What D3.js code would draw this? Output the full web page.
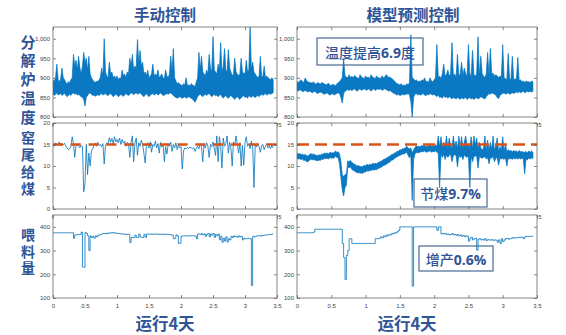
<!DOCTYPE html>
<html>
<head>
<meta charset="utf-8">
<script src="https://cdn.jsdelivr.net/npm/d3@7/dist/d3.min.js"></script>
<style>
  body { margin: 0; background: #fff; }
  .cjk { font-family: "Noto Sans CJK SC", sans-serif; fill: #2f5597; }
  .tick text { font-family: "Liberation Sans", Arial, sans-serif; font-size: 6px; fill: #444; }
  .tick line { stroke: #555; stroke-width: 0.7; }
</style>
</head>
<body>
<svg id="chart" width="566" height="335"></svg>
<script>
// sampling step of the logged data, in days
const dt = 0.02;

const xTicks = [0, 0.5, 1, 1.5, 2, 2.5, 3, 3.5];
const tempTicks = [800, 850, 900, 950, 1000];
const coalTicks = [0, 5, 10, 15, 20];
const feedTicks = [100, 200, 300, 400];
const coalTarget = 15;

const columnTitles = ["手动控制", "模型预测控制"];
const rowLabels = ["分解炉温度", "窑尾给煤", "喂料量"];
const xLabel = "运行4天";
const notes = [
  [["温度提高", false], ["6.9", true], ["度", false]],
  [["节煤", false], ["9.7%", true]],
  [["增产", false], ["0.6%", true]]
];

// 分解炉温度, manual: upper / lower edge of the noisy band
const manualTempHigh = [
  895, 890, 900, 935, 895, 890, 898, 925, 900, 895,
  888, 885, 890, 888, 895, 900, 960, 930, 945, 920,
  955, 925, 910, 930, 965, 940, 950, 920, 955, 910,
  900, 895, 890, 888, 892, 890, 895, 900, 925, 905,
  1000, 915, 905, 900, 940, 910, 915, 900, 905, 898,
  905, 895, 900, 898, 920, 905, 910, 900, 915, 910,
  950, 930, 960, 920, 930, 925, 998, 935, 970, 930,
  940, 910, 915, 905, 920, 900, 905, 910, 935, 905,
  910, 905, 920, 900, 905, 910, 900, 898, 920, 905,
  900, 910, 955, 915, 975, 900, 892, 885, 888, 884,
  882, 880, 885, 882, 900, 880, 882, 880, 885, 882,
  880, 878, 890, 900, 965, 920, 955, 915, 910, 905,
  920, 910, 960, 925, 915, 1005, 920, 915, 910, 935,
  920, 990, 915, 930, 975, 920, 915, 972, 925, 915,
  905, 910, 950, 915, 910, 905, 910, 950, 915, 912,
  910, 945, 915, 920, 1030, 920, 940, 915, 910, 905,
  900, 905, 955, 900, 905, 930, 900, 905, 900, 898,
  895, 900, 895
];
const manualTempLow = [
  860, 855, 858, 862, 856, 858, 860, 855, 858, 860,
  856, 852, 855, 858, 855, 860, 862, 858, 860, 856,
  858, 855, 852, 850, 845, 828, 850, 855, 860, 862,
  858, 855, 856, 853, 855, 857, 855, 858, 860, 856,
  858, 860, 856, 855, 858, 860, 856, 852, 855, 858,
  856, 852, 854, 858, 855, 853, 856, 860, 857, 855,
  858, 862, 860, 857, 860, 862, 858, 860, 862, 858,
  855, 852, 856, 860, 855, 852, 856, 858, 860, 856,
  858, 860, 856, 858, 862, 858, 855, 856, 858, 860,
  858, 860, 862, 858, 855, 852, 850, 848, 850, 852,
  850, 848, 850, 852, 848, 850, 852, 850, 848, 846,
  842, 838, 845, 852, 856, 858, 855, 852, 856, 858,
  855, 858, 860, 856, 852, 855, 858, 854, 856, 852,
  855, 858, 852, 848, 852, 855, 850, 848, 852, 855,
  852, 848, 845, 850, 852, 848, 845, 850, 852, 855,
  850, 852, 848, 855, 852, 850, 855, 852, 850, 853,
  855, 852, 856, 858, 855, 858, 860, 856, 858, 860,
  858, 860, 862
];

// 分解炉温度, model predictive control
const mpcTempHigh = [
  890, 888, 892, 895, 890, 888, 900, 892, 890, 888,
  888, 886, 890, 885, 884, 888, 886, 884, 888, 886,
  885, 882, 884, 886, 882, 880, 884, 882, 880, 884,
  888, 890, 895, 900, 948, 905, 902, 900, 908, 900,
  904, 900, 906, 902, 900, 898, 908, 902, 900, 898,
  905, 900, 902, 898, 908, 902, 900, 898, 905, 900,
  900, 898, 905, 900, 902, 908, 905, 900, 902, 898,
  896, 892, 888, 885, 884, 882, 885, 880, 882, 880,
  885, 882, 888, 1010, 900, 898, 892, 895, 890, 892,
  890, 895, 892, 900, 890, 892, 888, 900, 892, 890,
  895, 900, 985, 900, 905, 898, 910, 935, 905, 908,
  920, 905, 910, 990, 905, 910, 900, 960, 905, 910,
  940, 905, 925, 910, 905, 985, 910, 905, 970, 908,
  905, 910, 1005, 905, 955, 910, 905, 900, 910, 965,
  905, 975, 910, 912, 905, 908, 905, 900, 905, 900,
  985, 900, 898, 895, 962, 898, 895, 955, 895, 898,
  895, 952, 892, 895, 890, 892, 888, 892, 890, 890,
  888, 892, 890
];
const mpcTempLow = [
  868, 866, 870, 868, 865, 866, 868, 866, 864, 866,
  865, 862, 864, 866, 862, 860, 862, 864, 862, 860,
  858, 860, 862, 858, 856, 858, 860, 856, 858, 860,
  862, 860, 850, 836, 860, 866, 868, 870, 868, 870,
  868, 870, 872, 868, 866, 870, 872, 868, 870, 872,
  870, 868, 872, 870, 866, 870, 872, 868, 870, 872,
  870, 872, 868, 870, 872, 870, 868, 866, 868, 864,
  862, 860, 858, 856, 858, 855, 856, 858, 856, 858,
  858, 860, 856, 840, 800, 850, 858, 860, 856, 858,
  856, 858, 860, 856, 854, 858, 856, 860, 858, 856,
  858, 855, 852, 856, 850, 852, 848, 855, 850, 852,
  848, 852, 850, 846, 850, 848, 846, 850, 848, 845,
  850, 846, 848, 850, 845, 848, 850, 846, 848, 845,
  848, 850, 846, 848, 852, 850, 848, 846, 852, 856,
  860, 858, 862, 860, 858, 856, 850, 847, 855, 858,
  860, 862, 858, 860, 862, 858, 860, 862, 860, 862,
  864, 862, 865, 862, 864, 866, 862, 864, 866, 864,
  866, 864, 866
];

// 窑尾给煤, manual
const manualCoal = [
  15.2, 14.6, 15.4, 14.8, 15.0, 15.6, 14.7, 15.2, 14.9, 15.3,
  14.6, 14.2, 13.8, 14.0, 14.6, 16.8, 15.2, 12.0, 14.8, 15.0,
  14.6, 14.2, 14.8, 14.5, 4.0, 6.0, 15.0, 8.0, 13.0, 10.0,
  13.5, 14.0, 14.8, 15.3, 14.6, 15.5, 14.8, 15.0, 14.5, 15.2,
  10.5, 14.8, 15.4, 15.0, 16.6, 15.5, 16.4, 15.2, 16.8, 15.6,
  16.2, 15.4, 16.5, 15.0, 16.2, 15.3, 15.8, 14.6, 15.5, 15.2,
  12.0, 15.5, 17.0, 11.0, 15.2, 16.5, 12.5, 15.4, 14.6, 16.0,
  15.0, 13.0, 10.7, 14.8, 15.4, 14.2, 15.6, 13.2, 15.0, 14.6,
  15.8, 14.2, 15.2, 13.0, 15.5, 14.4, 15.0, 11.0, 14.5, 12.8,
  15.2, 14.6, 15.5, 13.4, 15.0, 14.2, 15.4, 13.8, 14.8, 14.2,
  14.5, 9.3, 13.5, 14.2, 14.0, 14.3, 14.1, 14.4, 14.2, 14.0,
  14.3, 13.4, 14.2, 14.6, 14.0, 15.2, 14.4, 11.0, 15.0, 14.2,
  15.4, 14.6, 12.0, 15.0, 14.5, 15.6, 14.0, 12.5, 17.0, 11.0,
  16.8, 14.5, 9.5, 16.5, 14.6, 15.2, 17.0, 13.0, 15.5, 14.2,
  10.0, 15.6, 14.8, 17.0, 15.0, 13.0, 15.4, 10.0, 14.8, 10.2,
  15.5, 16.8, 14.6, 15.2, 14.0, 15.8, 14.4, 5.0, 15.0, 14.4,
  15.2, 14.5, 13.2, 14.8, 15.0, 13.8, 14.6, 15.2, 14.2, 14.6,
  14.0, 14.8, 14.2
];

// 窑尾给煤, model predictive control: upper / lower edge of the band
const mpcCoalHigh = [
  13.0, 12.8, 12.9, 12.6, 12.8, 12.5, 12.7, 12.4, 12.3, 12.6,
  12.9, 12.7, 12.8, 12.6, 12.5, 12.4, 12.6, 12.5, 12.8, 12.7,
  13.0, 12.9, 13.0, 12.8, 13.2, 13.0, 13.1, 13.0, 13.5, 13.2,
  13.3, 12.8, 11.0, 8.0, 7.5, 8.0, 8.0, 11.2, 11.0, 11.3,
  10.8, 10.6, 10.4, 10.2, 10.0, 10.1, 9.8, 9.9, 9.8, 10.2,
  10.0, 10.4, 10.2, 10.4, 10.3, 10.6, 10.5, 10.6, 10.5, 10.8,
  10.9, 11.1, 11.2, 11.5, 11.6, 11.8, 12.0, 12.2, 12.3, 12.7,
  12.7, 13.0, 13.1, 13.4, 13.5, 13.7, 13.8, 14.0, 14.0, 14.2,
  14.6, 14.2, 14.0, 14.2, 13.0, 13.8, 14.3, 14.7, 14.5, 14.6,
  14.5, 14.8, 14.6, 14.9, 14.5, 14.6, 14.6, 15.0, 14.6, 14.7,
  14.6, 14.9, 14.6, 17.0, 14.5, 16.8, 14.2, 15.5, 14.5, 17.0,
  14.0, 16.5, 14.8, 14.2, 17.0, 14.5, 15.8, 14.0, 17.0, 14.5,
  16.8, 14.2, 15.5, 17.0, 14.6, 15.0, 14.2, 16.8, 14.0, 17.0,
  14.8, 16.5, 14.0, 15.5, 14.2, 13.8, 14.0, 17.0, 13.5, 16.0,
  13.6, 15.5, 13.8, 17.0, 13.5, 14.8, 16.5, 13.4, 14.5, 13.6,
  16.8, 13.4, 15.0, 13.3, 13.8, 13.5, 13.6, 13.3, 13.6, 13.4,
  13.5, 13.2, 13.6, 13.3, 13.4, 13.2, 13.2, 13.4, 13.0, 13.5,
  13.2, 13.5, 13.2
];
const mpcCoalLow = [
  11.8, 11.6, 11.7, 11.5, 11.6, 11.3, 11.4, 11.0, 11.0, 11.3,
  11.6, 11.4, 11.5, 11.4, 11.3, 11.2, 11.4, 11.3, 11.6, 11.5,
  11.8, 11.7, 11.8, 11.6, 12.0, 11.8, 11.9, 11.8, 12.3, 12.0,
  12.0, 10.5, 7.5, 4.5, 3.0, 5.0, 5.5, 9.8, 9.6, 9.8,
  9.2, 9.0, 8.8, 8.6, 8.4, 8.5, 8.3, 8.4, 8.3, 8.6,
  8.6, 8.9, 8.8, 9.0, 8.9, 9.2, 9.0, 9.2, 9.1, 9.4,
  9.5, 9.7, 9.8, 10.1, 10.2, 10.4, 10.6, 10.8, 11.0, 11.4,
  11.4, 11.8, 11.9, 12.2, 12.3, 12.5, 12.6, 12.8, 12.8, 13.0,
  13.2, 12.5, 11.9, 12.6, 2.0, 11.5, 12.8, 13.2, 13.0, 13.2,
  13.2, 13.4, 13.3, 13.5, 13.2, 13.3, 13.3, 13.6, 13.2, 13.4,
  13.3, 13.5, 13.2, 13.0, 5.0, 12.8, 12.0, 12.8, 11.5, 12.6,
  12.0, 12.5, 12.8, 11.0, 12.4, 12.6, 12.5, 9.8, 12.5, 12.0,
  12.4, 11.5, 12.6, 12.2, 12.0, 12.4, 5.0, 12.3, 11.0, 12.2,
  12.3, 12.4, 9.5, 12.2, 12.0, 11.8, 12.0, 12.2, 11.6, 12.0,
  10.5, 12.0, 11.8, 12.2, 11.0, 11.8, 12.0, 10.2, 11.8, 11.6,
  11.8, 11.5, 12.0, 10.0, 11.8, 11.6, 11.8, 11.5, 11.9, 11.6,
  11.8, 11.6, 11.9, 11.6, 11.8, 11.7, 8.2, 11.7, 11.4, 11.9,
  11.6, 11.9, 11.7
];

// 喂料量, manual
const manualFeed = [
  375, 375, 375, 375, 375, 375, 375, 375, 375, 375,
  375, 375, 375, 375, 375, 375, 352, 366, 366, 368,
  368, 368, 378, 230, 230, 376, 372, 362, 300, 362,
  355, 360, 352, 362, 358, 365, 366, 368, 370, 372,
  372, 370, 374, 372, 375, 374, 376, 374, 375, 373,
  372, 372, 371, 370, 370, 369, 370, 368, 369, 368,
  334, 355, 356, 354, 365, 356, 355, 370, 358, 356,
  355, 368, 356, 370, 370, 369, 370, 368, 370, 369,
  370, 369, 368, 370, 369, 368, 370, 368, 369, 368,
  367, 368, 366, 365, 350, 352, 366, 362, 330, 332,
  360, 362, 362, 362, 362, 361, 362, 362, 363, 362,
  362, 362, 350, 370, 370, 368, 372, 366, 370, 360,
  368, 372, 358, 370, 365, 372, 356, 368, 362, 370,
  345, 360, 335, 352, 340, 358, 336, 350, 345, 360,
  355, 362, 358, 360, 356, 362, 358, 360, 345, 352,
  350, 350, 352, 350, 350, 153, 360, 358, 360, 362,
  362, 363, 361, 364, 364, 365, 366, 366, 367, 368,
  368, 370, 370
];

// 喂料量, model predictive control
const mpcFeed = [
  375, 375, 375, 375, 375, 375, 375, 375, 375, 375,
  375, 375, 378, 390, 390, 390, 390, 390, 390, 390,
  390, 390, 390, 390, 390, 390, 390, 390, 390, 390,
  390, 390, 390, 330, 270, 178, 280, 300, 350, 350,
  330, 330, 330, 330, 330, 330, 330, 330, 330, 330,
  330, 330, 330, 330, 330, 330, 330, 350, 350, 350,
  352, 358, 354, 362, 358, 366, 362, 368, 366, 372,
  370, 376, 374, 380, 385, 400, 400, 400, 400, 400,
  400, 400, 400, 400, 150, 400, 400, 400, 400, 400,
  400, 400, 400, 400, 400, 400, 400, 400, 400, 400,
  400, 400, 385, 400, 400, 370, 372, 370, 372, 368,
  370, 366, 368, 372, 366, 368, 364, 368, 362, 366,
  360, 364, 358, 362, 360, 340, 352, 356, 345, 350,
  352, 302, 348, 350, 345, 348, 344, 350, 342, 346,
  345, 344, 346, 343, 345, 344, 335, 345, 330, 350,
  338, 345, 350, 352, 348, 350, 352, 355, 352, 354,
  355, 354, 356, 357, 355, 350, 358, 360, 359, 360,
  360, 360, 358
];

// ---- layout ----
const cols = [{ x0: 53, x1: 277, dash: "10,7.8" }, { x0: 297, x1: 537, dash: "12,6" }];
const rows = [{ y0: 27, y1: 117 }, { y0: 123, y1: 209 }, { y0: 215, y1: 298 }];
const titleY = 14;
// centre of the first character, advance per character, font size
const rowLabelPos = [
  { y: 42, step: 18.8, size: 15 },
  { y: 138, step: 17, size: 14 },
  { y: 235, step: 16.5, size: 14 }
];
const noteBoxes = [
  { x: 317, y: 38, w: 106, h: 27 },
  { x: 414, y: 179, w: 73, h: 28 },
  { x: 419, y: 246, w: 74, h: 25 }
];

const panels = [
  { row: 0, col: 0, high: manualTempHigh, low: manualTempLow, domain: [800, 1030], ticks: tempTicks },
  { row: 0, col: 1, high: mpcTempHigh, low: mpcTempLow, domain: [800, 1030], ticks: tempTicks },
  { row: 1, col: 0, values: manualCoal, domain: [0, 20], ticks: coalTicks, target: coalTarget },
  { row: 1, col: 1, high: mpcCoalHigh, low: mpcCoalLow, domain: [0, 20], ticks: coalTicks, target: coalTarget },
  { row: 2, col: 0, values: manualFeed, domain: [100, 450], ticks: feedTicks, step: true },
  { row: 2, col: 1, values: mpcFeed, domain: [100, 450], ticks: feedTicks, step: true }
];

const svg = d3.select("#chart");
svg.append("rect").attr("width", 566).attr("height", 335).attr("fill", "#fff");

panels.forEach((p, i) => drawPanel(p, i));

function drawPanel(p, i) {
  const c = cols[p.col], r = rows[p.row];
  const x = d3.scaleLinear().domain([0, 3.5]).range([c.x0, c.x1]);
  const y = d3.scaleLinear().domain(p.domain).range([r.y1, r.y0]);
  const g = svg.append("g");

  // white panel background hides the x labels of the panel above
  g.append("rect")
    .attr("x", c.x0).attr("y", r.y0)
    .attr("width", c.x1 - c.x0).attr("height", r.y1 - r.y0)
    .attr("fill", "#fff");

  g.append("clipPath").attr("id", "clip" + i)
    .append("rect")
    .attr("x", c.x0).attr("y", r.y0)
    .attr("width", c.x1 - c.x0).attr("height", r.y1 - r.y0);

  if (p.values) {
    const line = d3.line()
      .x((d, k) => x(k * dt))
      .y(d => y(d));
    if (p.step) line.curve(d3.curveStepAfter);
    g.append("path")
      .datum(p.values)
      .attr("clip-path", "url(#clip" + i + ")")
      .attr("fill", "none")
      .attr("stroke", "#0072bd")
      .attr("stroke-width", 0.8)
      .attr("stroke-linejoin", "round")
      .attr("d", line);
  } else {
    // dense noisy signal drawn as the band it fills on screen
    const band = d3.area()
      .x((d, k) => x(k * dt))
      .y0((d, k) => y(p.low[k]))
      .y1(d => y(d));
    g.append("path")
      .datum(p.high)
      .attr("clip-path", "url(#clip" + i + ")")
      .attr("fill", "#0a78c2")
      .attr("stroke", "#0072bd")
      .attr("stroke-width", 0.7)
      .attr("stroke-linejoin", "round")
      .attr("d", band);
  }

  if (p.target != null) {
    g.append("line")
      .attr("x1", x(0)).attr("x2", x(3.5))
      .attr("y1", y(p.target)).attr("y2", y(p.target))
      .attr("stroke", "#d95319")
      .attr("stroke-width", 2.6)
      .attr("stroke-dasharray", c.dash);
  }

  g.append("g")
    .attr("transform", "translate(0," + r.y1 + ")")
    .call(d3.axisBottom(x).tickValues(xTicks).tickSize(-3).tickPadding(6).tickFormat(d3.format("~g")))
    .call(a => a.select(".domain").remove());
  g.append("g")
    .attr("transform", "translate(0," + r.y0 + ")")
    .call(d3.axisTop(x).tickValues(xTicks).tickSize(-3).tickFormat(""))
    .call(a => a.select(".domain").remove());
  g.append("g")
    .attr("transform", "translate(" + c.x0 + ",0)")
    .call(d3.axisLeft(y).tickValues(p.ticks).tickSize(-3).tickPadding(3))
    .call(a => a.select(".domain").remove());
  g.append("g")
    .attr("transform", "translate(" + c.x1 + ",0)")
    .call(d3.axisRight(y).tickValues(p.ticks).tickSize(-3).tickFormat(""))
    .call(a => a.select(".domain").remove());

  g.append("rect")
    .attr("x", c.x0).attr("y", r.y0)
    .attr("width", c.x1 - c.x0).attr("height", r.y1 - r.y0)
    .attr("fill", "none")
    .attr("stroke", "#666")
    .attr("stroke-width", 0.8);
}

// column titles and x labels
columnTitles.forEach((t, i) => {
  const cx = (cols[i].x0 + cols[i].x1) / 2 + (i == 0 ? 0 : -4);
  svg.append("text").attr("class", "cjk")
    .attr("x", cx).attr("y", titleY)
    .attr("text-anchor", "middle").attr("dominant-baseline", "central")
    .attr("font-size", 15.5).attr("font-weight", 700)
    .text(t);
  svg.append("text").attr("class", "cjk")
    .attr("x", cx + (i == 0 ? 0 : -6)).attr("y", 323)
    .attr("text-anchor", "middle").attr("dominant-baseline", "central")
    .attr("font-size", 16.5).attr("font-weight", 700)
    .text(xLabel);
});

// vertical row labels, one text each, set top to bottom
rowLabels.forEach((label, i) => {
  const pos = rowLabelPos[i];
  svg.append("text").attr("class", "cjk")
    .attr("x", 28).attr("y", pos.y - pos.size / 2)
    .style("writing-mode", "vertical-rl")
    .style("text-orientation", "upright")
    .style("letter-spacing", (pos.step - pos.size) + "px")
    .attr("font-size", pos.size).attr("font-weight", 700)
    .text(label);
});

// annotation boxes
notes.forEach((parts, i) => {
  const b = noteBoxes[i];
  svg.append("rect")
    .attr("x", b.x).attr("y", b.y).attr("width", b.w).attr("height", b.h)
    .attr("fill", "none").attr("stroke", "#4a6a94").attr("stroke-width", 1.2);
  const t = svg.append("text").attr("class", "cjk")
    .attr("x", b.x + b.w / 2).attr("y", b.y + b.h / 2)
    .attr("text-anchor", "middle").attr("dominant-baseline", "central")
    .attr("font-size", 14);
  parts.forEach(([s, bold]) => {
    t.append("tspan")
      .attr("font-weight", bold ? 700 : 500)
      .attr("font-family", bold ? "'Open Sans', sans-serif" : null)
      .text(s);
  });
});
</script>
</body>
</html>
